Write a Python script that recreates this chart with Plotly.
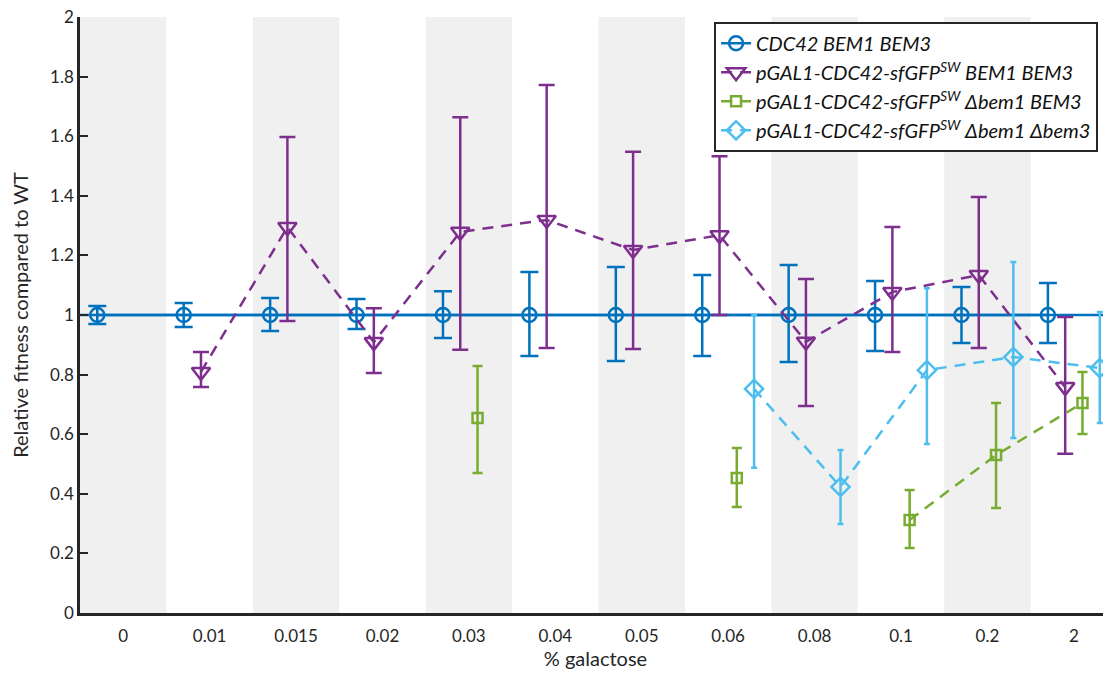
import plotly.graph_objects as go

categories = ["0", "0.01", "0.015", "0.02", "0.03", "0.04", "0.05", "0.06", "0.08", "0.1", "0.2", "2"]

names = [
    "<i>CDC42 BEM1 BEM3</i>",
    "<i>pGAL1-CDC42-sfGFP<sup>SW</sup> BEM1 BEM3</i>",
    "<i>pGAL1-CDC42-sfGFP<sup>SW</sup> Δbem1 BEM3</i>",
    "<i>pGAL1-CDC42-sfGFP<sup>SW</sup> Δbem1 Δbem3</i>",
]

# series values and error-bar bounds (upper / lower)
wt_val = [1, 1, 1, 1, 1, 1, 1, 1, 1, 1, 1, 1]
wt_hi = [1.03, 1.04, 1.057, 1.054, 1.08, 1.144, 1.161, 1.134, 1.168, 1.114, 1.094, 1.107]
wt_lo = [0.97, 0.96, 0.946, 0.953, 0.923, 0.862, 0.846, 0.862, 0.842, 0.879, 0.906, 0.906]

sw_val = [None, 0.809, 1.295, 0.909, 1.279, 1.319, 1.218, 1.268, 0.910, 1.077, 1.134, 0.758]
sw_hi = [None, 0.876, 1.597, 1.023, 1.664, 1.772, 1.548, 1.533, 1.121, 1.295, 1.396, 0.993]
sw_lo = [None, 0.758, 0.980, 0.805, 0.883, 0.889, 0.886, 1.000, 0.695, 0.876, 0.889, 0.534]

b1_val = [None, None, None, None, 0.654, None, None, 0.453, None, 0.312, 0.530, 0.705]
b1_hi = [None, None, None, None, 0.829, None, None, 0.554, None, 0.413, 0.705, 0.809]
b1_lo = [None, None, None, None, 0.470, None, None, 0.356, None, 0.218, 0.352, 0.601]

b13_val = [None, None, None, None, None, None, None, 0.752, 0.423, 0.815, 0.859, 0.822]
b13_hi = [None, None, None, None, None, None, None, 1.000, 0.547, 1.090, 1.178, 1.010]
b13_lo = [None, None, None, None, None, None, None, 0.487, 0.299, 0.567, 0.587, 0.638]

colors = ["#0072BD", "#7E2F8E", "#77AC30", "#4DBEEE"]
symbols = ["circle-open", "triangle-down-open", "square-open", "diamond-open"]
msizes = [14, 16, 10, 14]
offsets = [-0.3, -0.1, 0.1, 0.3]
capw = [9, 8, 5, 3]
dashes = ["solid", "11px,8px", "11px,8px", "11px,8px"]

series = [(wt_val, wt_hi, wt_lo), (sw_val, sw_hi, sw_lo), (b1_val, b1_hi, b1_lo), (b13_val, b13_hi, b13_lo)]

FONT = "Lato"
fig = go.Figure()

n = len(categories)
# alternating shaded bands
for i in range(0, n, 2):
    fig.add_shape(type="rect", xref="x", yref="paper", x0=i + 0.5, x1=i + 1.5, y0=0, y1=1,
                  fillcolor="#f0f0f0", line_width=0, layer="below")

# reference line at 1
fig.add_shape(type="line", xref="paper", yref="y", x0=0, x1=1, y0=1, y1=1,
              line=dict(color=colors[0], width=2.5), layer="below")

for k, (vals, hi, lo) in enumerate(series):
    xs = [i + 1 + offsets[k] for i in range(n)]
    plus = [None if v is None else h - v for v, h in zip(vals, hi)]
    minus = [None if v is None else v - l for v, l in zip(vals, lo)]
    fig.add_trace(go.Scatter(
        x=xs, y=vals, name=names[k], mode="lines+markers",
        line=dict(color=colors[k], width=2.5, dash=dashes[k]),
        marker=dict(symbol=symbols[k], size=msizes[k], color=colors[k],
                    line=dict(color=colors[k], width=2.5)),
        error_y=dict(type="data", symmetric=False, array=plus, arrayminus=minus,
                     color=colors[k], thickness=2.5, width=capw[k]),
        connectgaps=False,
    ))

fig.update_layout(
    width=1103, height=665,
    margin=dict(l=72, r=0, t=9, b=60, autoexpand=False),
    plot_bgcolor="white", paper_bgcolor="white",
    font=dict(family=FONT, size=17, color="#262626"),
    showlegend=True,
    legend=dict(x=0.615, xanchor="left", y=0.992, yanchor="top",
                bgcolor="white", bordercolor="#262626", borderwidth=2,
                font=dict(family=FONT, size=20, color="#111111"),
                tracegroupgap=0, itemwidth=30),
)
fig.update_xaxes(
    range=[0.5, 12.43], tickmode="array", tickvals=list(range(1, n + 1)), ticktext=categories,
    showgrid=False, zeroline=False, showline=True, linecolor="#262626", linewidth=2.5,
    ticks="", tickfont=dict(size=17), automargin=False, ticklabelstandoff=6,
    ticklabeloverflow="allow",
    title=dict(text="% galactose", font=dict(size=20), standoff=2),
)
fig.update_yaxes(
    range=[0, 2], dtick=0.2, tick0=0,
    showgrid=False, zeroline=False, showline=True, linecolor="#262626", linewidth=2.5,
    ticks="inside", ticklen=8, tickwidth=2, tickcolor="#262626", tickfont=dict(size=17),
    automargin=False, ticklabeloverflow="allow",
    title=dict(text="Relative fitness compared to WT", font=dict(size=20), standoff=22),
)

fig.write_html("out.html")
